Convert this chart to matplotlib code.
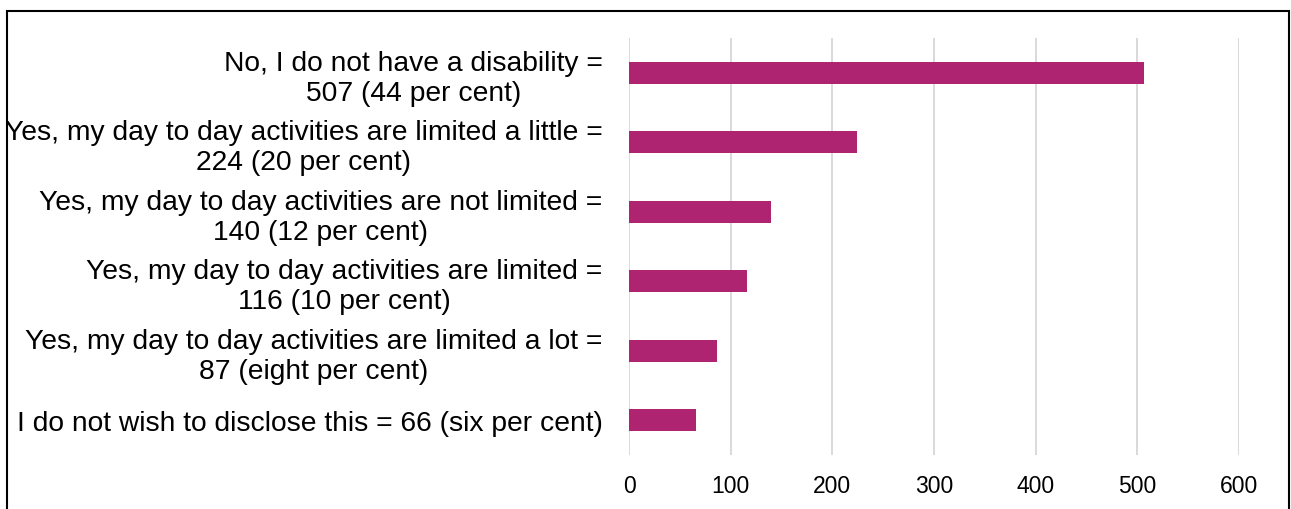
import matplotlib
matplotlib.use('Agg')
import matplotlib.pyplot as plt
from matplotlib.patches import Rectangle

plt.rcParams['font.family'] = ['Liberation Sans', 'DejaVu Sans']

categories = ['No, I do not have a disability =\n507 (44 per cent)',
              'Yes, my day to day activities are limited a little =\n224 (20 per cent)',
              'Yes, my day to day activities are not limited =\n140 (12 per cent)',
              'Yes, my day to day activities are limited =\n116 (10 per cent)',
              'Yes, my day to day activities are limited a lot =\n87 (eight per cent)',
              'I do not wish to disclose this = 66 (six per cent)']
counts = [507, 224, 140, 116, 87, 66]
xticks = [0, 100, 200, 300, 400, 500, 600]

W, H = 1291, 510
fig = plt.figure(figsize=(W / 100, H / 100), dpi=100)
ax = fig.add_axes([629 / W, 1 - 456 / H, 610 / W, 417 / H])

ypos = list(range(len(categories)))
ax.barh(ypos, counts, height=0.32, color='#AF2470', zorder=3)
ax.set_ylim(len(categories) - 0.5, -0.5)
ax.set_xlim(0, 600)
ax.set_xticks(xticks)
ax.set_yticks(ypos)
ax.set_yticklabels(categories, fontsize=20.3, multialignment='center',
                   linespacing=1.2)
ax.tick_params(axis='x', labelsize=16.5, length=0, pad=14)
ax.tick_params(axis='y', length=0, pad=19)
ax.grid(axis='x', color='#D9D9D9', linewidth=1.4, zorder=0)
for s in ax.spines.values():
    s.set_visible(False)

# outer frame (bottom edge falls off the picture)
frame = Rectangle((7 / W, -0.1), (1289 - 7) / W, 1.1 - 12 / H,
                  transform=fig.transFigure, fill=False,
                  edgecolor='black', linewidth=1.5, zorder=10)
fig.patches.append(frame)

clip = Rectangle((8 / W, 0), (1288 - 8) / W, 1 - 13 / H,
                 transform=fig.transFigure, fill=False, visible=False)
fig.patches.append(clip)
for lab in ax.get_yticklabels():
    lab.set_clip_on(True)
    lab.set_clip_path(clip)

fig.savefig('out.png', dpi=100)
